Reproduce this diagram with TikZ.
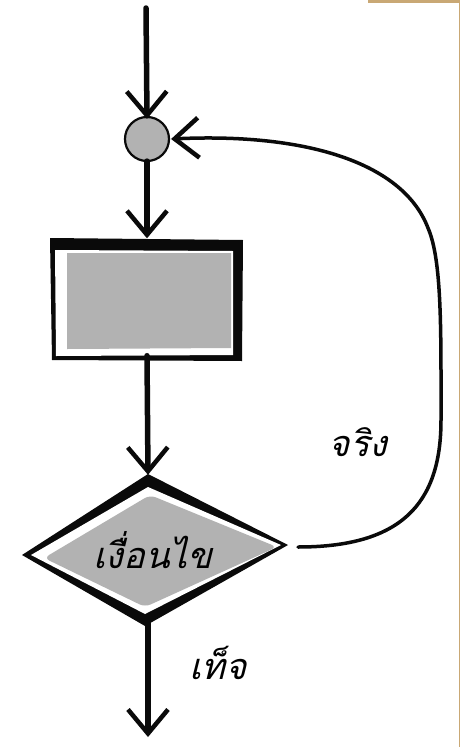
\documentclass[tikz,border=0pt]{standalone}
\usepackage{fontspec}
\usetikzlibrary{arrows.meta,shapes.geometric}
\newfontfamily\thaifont[Script=Thai,FakeSlant=0.25]{Loma}
\definecolor{facegrey}{HTML}{B2B2B2}
\definecolor{ink}{HTML}{0A0A0A}
\definecolor{tan}{HTML}{C9A875}
\tikzset{
  flow/.style={-{Straight Barb[length=24pt,width=40pt,line width=4.5pt]},line width=5.5pt,draw=ink,line cap=round},
  loop/.style={flow,line width=3.5pt},
  joint/.style={circle,minimum size=44pt,inner sep=0pt,fill=facegrey,draw=ink,line width=2.2pt},
  thaitext/.style={font=\thaifont\fontsize{36}{36}\selectfont,inner sep=0pt},
  every node/.style={inner sep=0pt}
}

\begin{document}
\begin{tikzpicture}[x=1pt,y=-1pt]
\useasboundingbox[fill=white] (0,0) rectangle (460,747);
% scanned paper edge
\fill[tan] (368,0) rectangle (460,2.5);
\fill[tan] (458.8,0) rectangle (460,747);

% loop body: black frame, white gap, grey face
\fill[ink] (50,238) -- (243,240) -- (242,361) -- (52,360) -- cycle;
\fill[white] (55,250) -- (233,251) -- (233,355) -- (56,356) -- cycle;
\fill[facegrey] (67,253) -- (231,253) -- (231,348) -- (67,349) -- cycle;
\node[minimum width=193pt,minimum height=123pt] (body) at (147,299) {};

% decision diamond, drawn in layers
\fill[ink] (22,555) -- (148,474) -- (288,545) -- (145,626) -- cycle;
\fill[white] (31,555) -- (148,487) -- (281,545) -- (145,614) -- cycle;
\fill[facegrey,rounded corners=6pt] (44,558) -- (150,495) -- (277,547) -- (145,607) -- cycle;
\node[diamond,minimum width=266pt,minimum height=152pt,thaitext] (cond) at (148,550) {\hspace*{10pt}เงื่อนไข};

\node[joint] (join) at (147,139) {};

\coordinate (in) at (146,8);
\coordinate (out) at (148,737);

\draw[flow] (in) -- ([yshift=-3pt]join.north);
\draw[flow] ([yshift=1pt]join.south) -- ([yshift=-1pt]body.north);
\draw[flow] ([yshift=5pt]body.south) -- ([yshift=-8pt]cond.north);
\draw[flow] ([yshift=13pt]cond.south) -- (out);
\draw[loop] (298,547) .. controls (400,547) and (441,505) .. (441,420)
  .. controls (441,330) and (442,260) .. (428,228)
  .. controls (402,160) and (300,133) .. ([xshift=1pt]join.east);

\node[thaitext] (yes) at (358,442) {จริง};
\node[thaitext] (no) at (218,663) {เท็จ};
\end{tikzpicture}
\end{document}
